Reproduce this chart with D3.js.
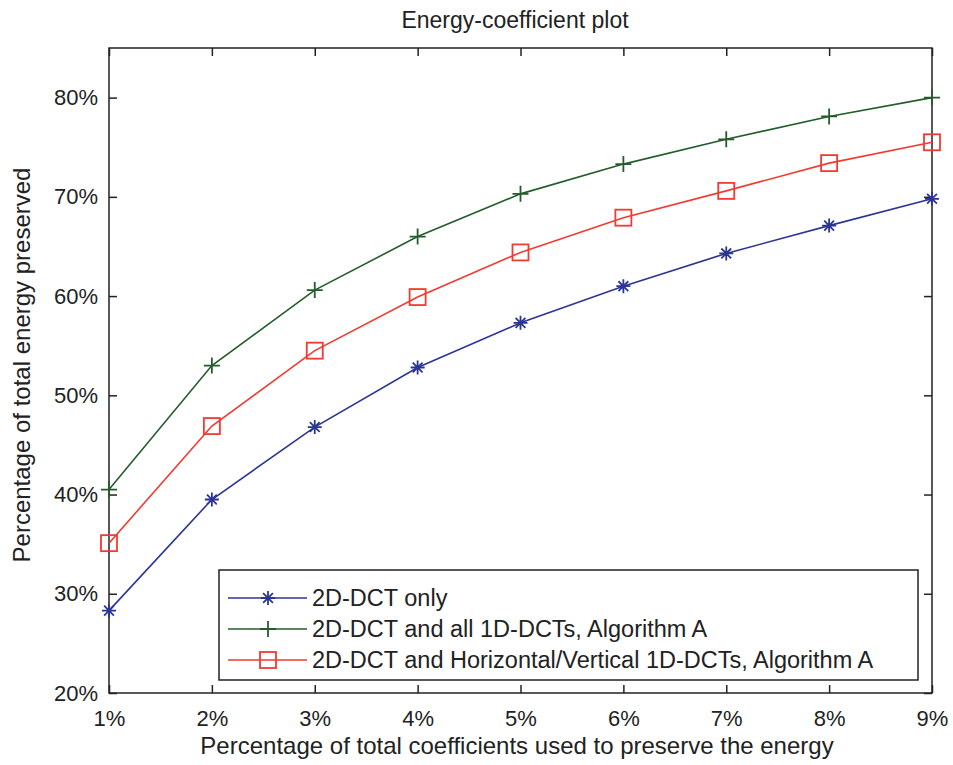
<!DOCTYPE html>
<html><head><meta charset="utf-8">
<script src="https://cdn.jsdelivr.net/npm/d3@7"></script>
<style>body{margin:0;background:#fff}svg{display:block}text{font-family:"Liberation Sans",Arial,sans-serif;fill:#222}</style>
</head><body><svg id="c" width="953" height="765"></svg>
<script>
const xCats = [1,2,3,4,5,6,7,8,9];
const yTicks = [20,30,40,50,60,70,80];
const blueVals  = [28.3,39.5,46.8,52.8,57.3,61.0,64.3,67.1,69.8];
const greenVals = [40.5,53.0,60.6,66.0,70.3,73.3,75.8,78.1,80.0];
const redVals   = [35.1,46.9,54.5,59.9,64.4,67.9,70.6,73.4,75.5];
const seriesNames = ["2D-DCT only","2D-DCT and all 1D-DCTs, Algorithm A","2D-DCT and Horizontal/Vertical 1D-DCTs, Algorithm A"];
const title = "Energy-coefficient plot";
const xLabel = "Percentage of total coefficients used to preserve the energy";
const yLabel = "Percentage of total energy preserved";

const svg = d3.select("#c");
const L=109,R=932,T=48,B=693;
const x = d3.scaleLinear().domain([1,9]).range([L,R]);
const y = d3.scaleLinear().domain([20,85]).range([B,T]);

const series = [
 {name:seriesNames[0], vals:blueVals, color:"#2b3594", marker:"star"},
 {name:seriesNames[1], vals:greenVals, color:"#245c2c", marker:"plus"},
 {name:seriesNames[2], vals:redVals, color:"#f23a30", marker:"square"}
];

const tl=8;
svg.append("g").attr("transform",`translate(0,${B})`)
  .call(d3.axisBottom(x).tickValues(xCats).tickSize(-tl).tickPadding(16).tickFormat(d=>d+"%"))
  .call(g=>{g.select(".domain").remove();g.selectAll("text").attr("font-size",22).attr("dy","0.75em");});
svg.append("g").attr("transform",`translate(0,${T})`)
  .call(d3.axisTop(x).tickValues(xCats).tickSize(-tl).tickFormat(""))
  .call(g=>g.select(".domain").remove());
svg.append("g").attr("transform",`translate(${L},0)`)
  .call(d3.axisLeft(y).tickValues(yTicks).tickSize(-tl).tickPadding(11).tickFormat(d=>d+"%"))
  .call(g=>{g.select(".domain").remove();g.selectAll("text").attr("font-size",22);});
svg.append("g").attr("transform",`translate(${R},0)`)
  .call(d3.axisRight(y).tickValues(yTicks).tickSize(-tl).tickFormat(""))
  .call(g=>g.select(".domain").remove());
svg.selectAll(".tick line").attr("stroke","#222").attr("stroke-width",1.5);
svg.append("rect").attr("x",L).attr("y",T).attr("width",R-L).attr("height",B-T)
  .attr("fill","none").attr("stroke","#222").attr("stroke-width",1.5);

function drawMarker(g,type,cx,cy,color){
  if(type==="square"){
    g.append("rect").attr("x",cx-8).attr("y",cy-8).attr("width",16).attr("height",16)
      .attr("fill","none").attr("stroke",color).attr("stroke-width",1.8);
  } else if(type==="plus"){
    const s=8;
    g.append("path").attr("d",`M${cx-s},${cy}H${cx+s}M${cx},${cy-s}V${cy+s}`)
      .attr("stroke",color).attr("stroke-width",1.8).attr("fill","none");
  } else {
    const s=7;
    let d=`M${cx-s},${cy}H${cx+s}M${cx},${cy-s}V${cy+s}`;
    const k=s*0.7;
    d+=`M${cx-k},${cy-k}L${cx+k},${cy+k}M${cx-k},${cy+k}L${cx+k},${cy-k}`;
    g.append("path").attr("d",d).attr("stroke",color).attr("stroke-width",1.8).attr("fill","none");
  }
}

const line = d3.line().x((d,i)=>x(xCats[i])).y(d=>y(d));
series.forEach(s=>{
  const g=svg.append("g");
  g.append("path").attr("d",line(s.vals)).attr("fill","none").attr("stroke",s.color).attr("stroke-width",1.6);
  s.vals.forEach((v,i)=>drawMarker(g,s.marker,x(xCats[i]),y(v),s.color));
});

const lg=svg.append("g");
lg.append("rect").attr("x",219).attr("y",570).attr("width",699).attr("height",110)
  .attr("fill","#fff").attr("stroke","#222").attr("stroke-width",1.5);
series.forEach((s,i)=>{
  const ly=598+i*31;
  lg.append("line").attr("x1",228).attr("x2",307).attr("y1",ly).attr("y2",ly).attr("stroke",s.color).attr("stroke-width",1.6);
  drawMarker(lg,s.marker,268,ly,s.color);
  lg.append("text").attr("x",312).attr("y",ly).attr("dy","0.35em").attr("font-size",23.5).text(s.name);
});

svg.append("text").attr("x",515).attr("y",20).attr("text-anchor","middle").attr("dy","0.35em").attr("font-size",23).text(title);
svg.append("text").attr("x",517).attr("y",746).attr("text-anchor","middle").attr("dy","0.35em").attr("font-size",24).text(xLabel);
svg.append("text").attr("transform","translate(22,365) rotate(-90)").attr("text-anchor","middle").attr("dy","0.35em").attr("font-size",24).text(yLabel);
</script></body></html>
